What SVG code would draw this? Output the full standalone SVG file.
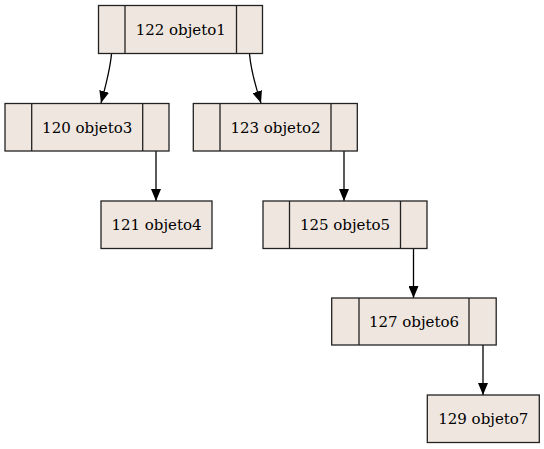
<svg xmlns="http://www.w3.org/2000/svg" width="544" height="449" viewBox="0 0 544 449">
<defs>
<style>
.box{fill:#efe6df;stroke:#222;stroke-width:1.3}
.div{stroke:#222;stroke-width:1.3;fill:none}
.t{font-family:'DejaVu Serif',serif;font-size:15px;text-anchor:middle;fill:#000}
.e{fill:none;stroke:#000;stroke-width:1.3}
</style>
<marker id="ah" markerWidth="12" markerHeight="10" refX="12" refY="5" orient="auto" markerUnits="userSpaceOnUse">
<path d="M0,0 L12,5 L0,10 Z" fill="#000"/>
</marker>
</defs>
<rect width="544" height="449" fill="#fff"/>
<g id="connectors">
<path class="e" d="M111.5,54 C110,70 106,85 101,103" marker-end="url(#ah)"/>
<path class="e" d="M249.5,54 C251,70 255,85 261,103" marker-end="url(#ah)"/>
<path class="e" d="M156,151 L156,201" marker-end="url(#ah)"/>
<path class="e" d="M344,151 L344,201" marker-end="url(#ah)"/>
<path class="e" d="M413.5,248 L413.5,298" marker-end="url(#ah)"/>
<path class="e" d="M483,345 L483,395" marker-end="url(#ah)"/>
</g>
<g id="n122">
<rect class="box" x="98.5" y="5.5" width="164" height="48"/>
<path class="div" d="M125,5.5V53.5M236.5,5.5V53.5"/>
<text class="t" x="180.75" y="34.5">122 objeto1</text>
</g>
<g id="n120">
<rect class="box" x="5" y="103.5" width="164" height="47.5"/>
<path class="div" d="M31.7,103.5V151M142.7,103.5V151"/>
<text class="t" x="87.2" y="132.5">120 objeto3</text>
</g>
<g id="n123">
<rect class="box" x="193.3" y="103.5" width="164" height="47.5"/>
<path class="div" d="M220,103.5V151M331,103.5V151"/>
<text class="t" x="275.5" y="132.5">123 objeto2</text>
</g>
<g id="n121">
<rect class="box" x="101" y="201" width="111" height="47.5"/>
<text class="t" x="156.5" y="230">121 objeto4</text>
</g>
<g id="n125">
<rect class="box" x="263" y="201" width="164" height="47.5"/>
<path class="div" d="M289.5,201V248.5M400.5,201V248.5"/>
<text class="t" x="345" y="230">125 objeto5</text>
</g>
<g id="n127">
<rect class="box" x="331.7" y="298" width="164.5" height="47"/>
<path class="div" d="M359,298V345M469,298V345"/>
<text class="t" x="414" y="327">127 objeto6</text>
</g>
<g id="n129">
<rect class="box" x="427.3" y="395" width="112" height="47.5"/>
<text class="t" x="483.3" y="424">129 objeto7</text>
</g>
</svg>
